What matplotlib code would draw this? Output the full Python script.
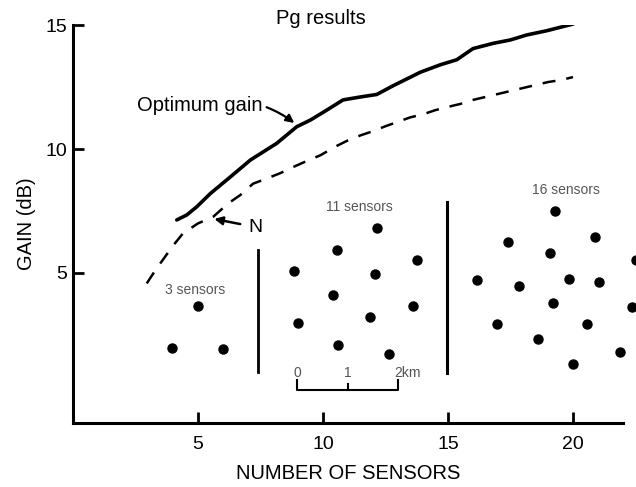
import matplotlib
matplotlib.use("Agg")
import matplotlib.pyplot as plt

plt.rcParams["font.family"] = ["Liberation Sans", "DejaVu Sans"]

# optimum gain curve (solid)
opt_x = [4.15, 4.55, 4.95, 5.5, 6.3, 7.1, 8.15, 8.95, 9.5, 10.2, 10.8, 11.5,
         12.15, 12.8, 13.9, 14.7, 15.35, 16.0, 16.8, 17.5, 18.15, 18.95, 20.0]
opt_y = [7.14, 7.34, 7.67, 8.21, 8.88, 9.56, 10.23, 10.9, 11.17, 11.6, 11.98, 12.1,
         12.2, 12.55, 13.1, 13.4, 13.6, 14.05, 14.26, 14.4, 14.6, 14.77, 15.04]

# sqrt(N) curve (dashed)
n_x = [2.95, 3.3, 4.0, 4.4, 5.0, 5.6, 6.2, 6.7, 7.2, 7.8, 8.3, 8.8, 9.2, 9.9,
       10.5, 11.0, 11.5, 12.0, 12.5, 13.0, 13.5, 14.0, 14.5, 15.0, 15.5, 16.0,
       16.5, 17.0, 17.5, 18.0, 18.5, 19.0, 19.5, 20.0]
n_y = [4.58, 5.12, 6.1, 6.6, 7.0, 7.26, 7.8, 8.15, 8.6, 8.83, 9.03, 9.27, 9.45, 9.75,
       10.1, 10.35, 10.55, 10.72, 10.92, 11.1, 11.28, 11.4, 11.57, 11.7, 11.82, 11.98,
       12.1, 12.22, 12.34, 12.46, 12.58, 12.7, 12.78, 12.9]

# sensor layouts sketched inside the plot
s3_x = [5.01, 3.95, 5.99]
s3_y = [3.68, 1.96, 1.92]
s11_x = [12.17, 10.55, 13.77, 8.84, 12.08, 10.41, 13.61, 11.88, 9.01, 10.61, 12.65]
s11_y = [6.80, 5.93, 5.52, 5.08, 4.96, 4.11, 3.67, 3.24, 3.00, 2.08, 1.73]
s16_x = [19.28, 17.41, 20.88, 19.08, 22.52, 16.15, 17.85, 19.83, 21.03, 19.21,
         22.35, 16.95, 20.57, 18.61, 21.89, 20.01]
s16_y = [7.51, 6.25, 6.46, 5.82, 5.52, 4.72, 4.46, 4.74, 4.65, 3.80,
         3.61, 2.93, 2.94, 2.34, 1.83, 1.31]

xticks = [5, 10, 15, 20]
yticks = [5, 10, 15]

fig = plt.figure(figsize=(6.36, 4.87), dpi=100)
ax = fig.add_axes([0.1148, 0.1314, 0.8648, 0.8172])

ax.plot(opt_x, opt_y, color="black", lw=2.6, solid_capstyle="round",
        solid_joinstyle="round")
ax.plot(n_x, n_y, color="black", lw=1.8, dashes=(5.2, 4.4))

for xs, ys in [(s3_x, s3_y), (s11_x, s11_y), (s16_x, s16_y)]:
    ax.plot(xs, ys, "o", color="black", ms=6.5, clip_on=False)

# separators between layouts
ax.plot([7.41, 7.41], [1.02, 5.93], color="black", lw=2)
ax.plot([14.95, 14.95], [0.95, 7.87], color="black", lw=2.2)

lab = dict(color="#555555", fontsize=10, ha="center", va="center")
ax.text(4.9, 4.31, "3 sensors", **lab)
ax.text(11.44, 7.66, "11 sensors", **lab)
ax.text(19.72, 8.35, "16 sensors", **lab)

# scale bar
ax.plot([8.97, 8.97, 13.01, 13.01], [0.69, 0.28, 0.28, 0.69], color="black", lw=1.5)
ax.plot([11.01, 11.01], [0.28, 0.52], color="black", lw=1.5)
ax.text(8.97, 0.98, "0", **lab)
ax.text(11.01, 0.98, "1", **lab)
ax.text(12.85, 0.98, "2km", color="#555555", fontsize=10, ha="left", va="center")

ax.annotate("Optimum gain", xy=(8.85, 11.05), xytext=(2.56, 11.77),
            fontsize=14.5, ha="left", va="center",
            arrowprops=dict(arrowstyle="-|>", color="black", lw=1.6,
                            connectionstyle="arc3,rad=-0.25",
                            shrinkA=1, shrinkB=0, mutation_scale=12))
ax.annotate("N", xy=(5.65, 7.18), xytext=(7.3, 6.85),
            fontsize=14, ha="center", va="center",
            arrowprops=dict(arrowstyle="-|>", color="black", lw=1.8,
                            shrinkA=4, shrinkB=0, mutation_scale=12))

ax.text(9.9, 15.25, "Pg results", fontsize=14.5, ha="center", va="center")

ax.set_xlim(0, 22)
ax.set_ylim(-1.05, 15)
ax.set_xticks(xticks)
ax.set_yticks(yticks)
ax.tick_params(direction="in", length=8, width=2, labelsize=14)
ax.tick_params(axis="x", pad=9)
ax.tick_params(axis="y", pad=4)
for side in ["top", "right"]:
    ax.spines[side].set_visible(False)
for side in ["left", "bottom"]:
    ax.spines[side].set_linewidth(2.2)

ax.set_xlabel("NUMBER OF SENSORS", fontsize=14.5, labelpad=8)
ax.set_ylabel("GAIN (dB)", fontsize=14.5, labelpad=7)

fig.savefig("out.png", dpi=100)
